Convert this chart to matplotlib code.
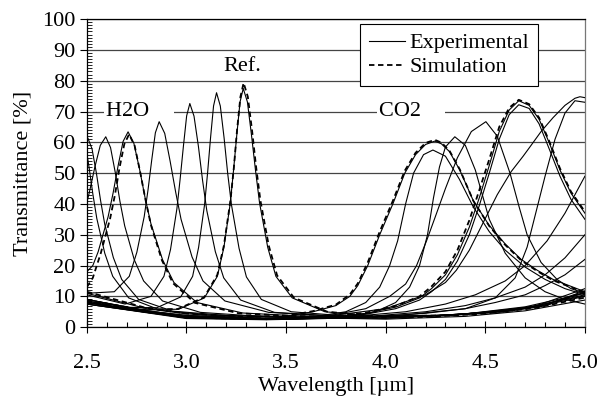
import matplotlib
matplotlib.use("Agg")
import matplotlib.pyplot as plt
from matplotlib.ticker import MultipleLocator

plt.rcParams['font.family'] = ['Liberation Serif', 'DejaVu Serif']
plt.rcParams['font.size'] = 16

# --- short-wavelength filters (experimental) ---
wl_p1 = [2.47, 2.49, 2.51, 2.53, 2.55, 2.59, 2.63, 2.71, 2.87, 3.1, 3.5, 4.0, 4.4, 4.7, 5.0]
t_p1 = [64, 60.3, 52.4, 43.3, 35.3, 24, 16.5, 9.5, 5.5, 4, 3.2, 2.6, 3.5, 5.3, 8.8]

wl_p2 = [2.49, 2.505, 2.526, 2.548, 2.569, 2.59, 2.633, 2.675, 2.76, 2.93, 3.2, 3.6, 4.0, 4.4, 4.7, 5.0]
t_p2 = [60, 61.4, 57.9, 50, 41.1, 33.4, 22.6, 15.5, 9, 5.2, 3.8, 3, 2.9, 4.2, 6.2, 10.5]

wl_p3 = [2.485, 2.5125, 2.54, 2.5675, 2.595, 2.619, 2.643, 2.666, 2.69, 2.738, 2.785, 2.88,
         3.07, 3.3, 3.7, 4.0, 4.4, 4.7, 5.0]
t_p3 = [36.6, 43.7, 51.9, 59, 61.8, 58.3, 50.1, 40.9, 32.9, 21.9, 15, 8.5,
        4.8, 3.8, 3.1, 2.9, 4.3, 6.6, 11]

wl_h2o = [2.5, 2.53, 2.557, 2.607, 2.632, 2.657, 2.682, 2.707, 2.736, 2.765, 2.793, 2.822,
          2.88, 2.937, 3.052, 3.282, 3.55, 3.9, 4.2, 4.5, 4.75, 5.0]
t_h2o = [18, 20, 24.5, 35.9, 43.6, 52.4, 60.3, 63.4, 59.7, 51.2, 41.8, 33.5,
         21.9, 14.5, 8, 4.6, 3.7, 3.2, 3.5, 4.6, 6.5, 10]

wl_p5 = [2.5, 2.638, 2.713, 2.751, 2.788, 2.807, 2.826, 2.844, 2.863, 2.891, 2.918, 2.946,
         2.973, 3.028, 3.083, 3.193, 3.413, 3.7, 4.0, 4.3, 4.6, 4.8, 5.0]
t_p5 = [11, 11.5, 16.5, 24.3, 35.9, 44.5, 54.4, 63.1, 66.7, 62.9, 53.9, 43.8,
        35, 22.8, 15, 8.5, 4.8, 3.7, 3.4, 3.8, 5.3, 7.3, 11.2]

wl_p6 = [2.5, 2.692, 2.822, 2.887, 2.92, 2.952, 2.968, 2.985, 3.001, 3.017, 3.038, 3.06,
         3.081, 3.102, 3.145, 3.187, 3.272, 3.442, 3.8, 4.1, 4.4, 4.7, 5.0]
t_p6 = [10.5, 7.5, 10, 16.5, 25.2, 38.4, 47.9, 58.9, 68.6, 72.6, 68.5, 58.7,
        47.6, 37.9, 24.5, 16, 8.8, 4.8, 3.4, 3.3, 4.3, 6.3, 10.2]

wl_p7 = [2.5, 2.65, 2.851, 2.971, 3.031, 3.061, 3.091, 3.106, 3.121, 3.136, 3.151, 3.17,
         3.189, 3.207, 3.226, 3.264, 3.301, 3.376, 3.526, 3.85, 4.2, 4.5, 4.75, 5.0]
t_p7 = [8.5, 6.5, 6.3, 9.8, 16.5, 25.9, 39.8, 50, 61.5, 71.8, 76.1, 71.8,
        61.4, 49.9, 39.7, 25.6, 16.3, 9, 5, 3.4, 3.5, 4.8, 6.8, 12.5]

wl_ref = [2.5, 2.765, 2.96, 3.09, 3.155, 3.188, 3.22, 3.236, 3.253, 3.269, 3.285, 3.306,
          3.326, 3.347, 3.367, 3.408, 3.449, 3.531, 3.695, 3.941, 4.3, 4.6, 4.8, 5.0]
t_ref = [9, 5.8, 5.8, 9.5, 16.5, 25.9, 40.3, 50.7, 62.6, 73.1, 77.5, 73.1,
         62.6, 50.7, 40.3, 25.9, 16.5, 9.5, 5, 3.6, 3.9, 5.3, 7.2, 11.8]

# --- long-wavelength filters (experimental) ---
wl_co2a = [2.5, 2.8, 3.0, 3.3, 3.5, 3.635, 3.75, 3.82, 3.86, 3.91, 3.97, 4.036, 4.096, 4.15,
           4.2, 4.247, 4.28, 4.32, 4.372, 4.44, 4.52, 4.6, 4.68, 4.76, 4.84, 4.92, 5.0]
t_co2a = [11, 6, 4.3, 3.2, 3.5, 5, 7, 10, 13.5, 20, 30, 40, 50, 56,
          59.3, 60.4, 59.5, 57, 51, 41, 33, 27, 22, 18.5, 15.5, 13.5, 11.5]

wl_co2b = [2.5, 2.8, 3.0, 3.4, 3.65, 3.8, 3.9, 3.97, 4.02, 4.06, 4.1, 4.14, 4.19, 4.237,
           4.3, 4.37, 4.44, 4.52, 4.6, 4.7, 4.8, 4.9, 5.0]
t_co2b = [9, 5.2, 3.8, 2.8, 3.5, 5, 8, 13, 20, 28, 40, 50, 56, 57.5,
          55.5, 48, 39, 31, 25, 19.5, 15.5, 12.5, 10.5]

wl_r3 = [2.5, 2.8, 3.0, 3.5, 3.8, 3.95, 4.05, 4.12, 4.17, 4.21, 4.24, 4.27, 4.3, 4.347,
         4.4, 4.45, 4.52, 4.6, 4.7, 4.8, 4.9, 5.0]
t_r3 = [8, 4.8, 3.5, 2.6, 3.2, 5, 8, 13, 20, 30, 42, 52, 58.5, 61.8,
        59, 51, 35, 24, 16, 11.5, 9, 7.5]

wl_r4 = [2.5, 2.8, 3.0, 3.4, 3.7, 3.9, 4.02, 4.1, 4.155, 4.205, 4.25, 4.3, 4.36, 4.43,
         4.503, 4.56, 4.624, 4.67, 4.71, 4.78, 4.86, 4.93, 5.0]
t_r4 = [9, 5.3, 3.8, 2.8, 3.5, 6, 10, 14, 20, 28, 36, 45, 55, 63.5,
        66.7, 62, 50, 39, 30, 21, 15.5, 12.5, 11]

wl_r5 = [2.5, 3.0, 3.4, 3.7, 3.9, 4.05, 4.17, 4.23, 4.3, 4.36, 4.42, 4.47, 4.52, 4.57,
         4.62, 4.668, 4.72, 4.77, 4.82, 4.875, 4.93, 5.0]
t_r5a = [8, 3, 2.5, 3, 4.5, 6.5, 9.5, 12.5, 17, 23.5, 32.5, 42, 52.5, 63.5,
         70.5, 73.5, 72, 67.5, 60, 51, 43.5, 37]
t_r5b = [7.5, 2.8, 2.4, 2.8, 4.2, 6, 8.8, 11.5, 15.5, 21.5, 30, 39.5, 50, 61,
         69, 72.2, 71, 66, 58, 49, 41.5, 35]

wl_r6 = [2.5, 3.0, 3.3, 3.7, 4.0, 4.2, 4.3, 4.355, 4.42, 4.49, 4.56, 4.63, 4.69, 4.724,
         4.78, 4.84, 4.9, 4.95, 4.975, 5.0]
t_r6 = [8, 3.3, 2.7, 3.5, 6, 10.5, 14.5, 18.5, 25, 34, 43, 50.5, 55.5, 58.5,
        63.5, 68, 72, 74.3, 74.8, 74.5]

wl_r7 = [2.5, 3.0, 3.4, 3.8, 4.1, 4.4, 4.55, 4.65, 4.71, 4.757, 4.8, 4.85, 4.9, 4.95, 5.0]
t_r7 = [7.5, 3, 2.5, 3, 4, 6, 9.5, 16, 26, 38, 49, 61, 69.5, 73.5, 73]

wl_r8 = [2.5, 3.0, 3.4, 3.8, 4.1, 4.3, 4.45, 4.6, 4.7, 4.81, 4.9, 4.95, 5.0]
t_r8 = [8.5, 3.4, 2.7, 3.3, 5, 7.5, 10.5, 15, 20, 28, 37, 43, 49]

wl_r9 = [2.5, 3.0, 3.5, 3.9, 4.2, 4.4, 4.55, 4.7, 4.8, 4.9, 5.0]
t_r9 = [8, 3.2, 2.7, 3.4, 5, 7, 9.5, 13, 17, 22.5, 30]

wl_r10 = [2.5, 3.0, 3.5, 3.9, 4.2, 4.4, 4.55, 4.7, 4.8, 4.9, 5.0]
t_r10 = [7.5, 3, 2.6, 3.2, 4.5, 6, 8, 10.5, 13.5, 17, 22]

# --- simulations ---
wl_h2o_sim = [2.5, 2.53, 2.57, 2.617, 2.641, 2.664, 2.688, 2.712, 2.74, 2.767, 2.795, 2.822,
              2.877, 2.932, 3.042, 3.262, 3.55, 3.9, 4.2, 4.5, 4.75, 5.0]
t_h2o_sim = [13, 16, 24, 35.3, 42.9, 51.7, 59.4, 62.6, 58.9, 50.6, 41.2, 33.1,
             21.7, 14.3, 7.9, 4.5, 3.6, 3.1, 3.3, 4.4, 6.2, 9.6]

wl_ref_sim = [2.5, 2.77, 2.957, 3.089, 3.155, 3.188, 3.221, 3.238, 3.254, 3.271, 3.287, 3.308,
              3.329, 3.35, 3.371, 3.413, 3.455, 3.539, 3.707, 3.95, 4.3, 4.6, 4.8, 5.0]
t_ref_sim = [8.8, 5.7, 5.9, 9.7, 17, 26.5, 41.2, 51.8, 64, 74.8, 79.3, 74.8,
             64, 51.8, 41.2, 26.5, 16.8, 9.6, 5, 3.5, 3.8, 5.1, 7, 11.5]

t_co2_sim = [11.5, 6.2, 4.4, 3.3, 3.6, 5.2, 7.3, 10.6, 14.2, 21, 31, 41, 50.8, 56.6,
             59.8, 60.8, 59.9, 57.3, 51.2, 41, 32.8, 26.7, 21.7, 18.2, 15.2, 13.2, 11.2]

t_r5_sim = [8.3, 3.1, 2.6, 3.1, 4.7, 6.9, 10, 13.2, 18, 25, 34.7, 44.5, 54.5, 65,
            71.2, 73.8, 72.4, 68, 60.5, 51.5, 44, 37.5]

experimental = [
    (wl_p1, t_p1), (wl_p2, t_p2), (wl_p3, t_p3), (wl_h2o, t_h2o), (wl_p5, t_p5),
    (wl_p6, t_p6), (wl_p7, t_p7), (wl_ref, t_ref),
    (wl_co2a, t_co2a), (wl_co2b, t_co2b), (wl_r3, t_r3), (wl_r4, t_r4),
    (wl_r5, t_r5a), (wl_r5, t_r5b), (wl_r6, t_r6), (wl_r7, t_r7),
    (wl_r8, t_r8), (wl_r9, t_r9), (wl_r10, t_r10),
]
simulation = [
    (wl_h2o_sim, t_h2o_sim), (wl_ref_sim, t_ref_sim),
    (wl_co2a, t_co2_sim), (wl_r5, t_r5_sim),
]

fig = plt.figure(figsize=(6.03, 3.98), dpi=100)
ax = fig.add_axes([0.144, 0.178, 0.826, 0.774])

for i, (x, y) in enumerate(experimental):
    ax.plot(x, y, color='black', lw=0.8, zorder=3,
            label='Experimental' if i == 0 else None)
for i, (x, y) in enumerate(simulation):
    ax.plot(x, y, color='black', lw=1.3, ls=(0, (3, 2)), zorder=3,
            label='Simulation' if i == 0 else None)

ax.set_xlim(2.5, 5.0)
ax.set_ylim(0, 100)
ax.xaxis.set_major_locator(MultipleLocator(0.5))
ax.xaxis.set_minor_locator(MultipleLocator(0.1))
ax.yaxis.set_major_locator(MultipleLocator(10))
ax.yaxis.set_minor_locator(MultipleLocator(1))
ax.xaxis.set_major_formatter(plt.FuncFormatter(lambda v, p: f"{v:.1f}"))

ax.tick_params(axis='x', which='major', direction='inout', length=9, width=0.8, pad=15)
ax.tick_params(axis='x', which='minor', direction='in', length=3.6, width=0.8)
ax.tick_params(axis='y', which='major', direction='out', length=5, width=0.8, pad=3)
ax.tick_params(axis='y', which='minor', direction='in', length=3.6, width=0.6)

ax.yaxis.grid(True, which='major', color='#444444', lw=0.9, zorder=0)
ax.set_axisbelow(True)
for s in ax.spines.values():
    s.set_linewidth(0.9)
    s.set_color('black')
ax.spines['right'].set_color('#777777')

ax.set_xlabel('Wavelength [µm]', labelpad=3)
ax.set_ylabel('Transmittance [%]', labelpad=7)

box = dict(facecolor='white', edgecolor='none', pad=1.5)
ax.text(2.598, 70, 'H2O\u2002\u2002', ha='left', va='center', bbox=box, zorder=2)
ax.text(3.965, 70, 'CO2\u2002\u2002', ha='left', va='center', bbox=box, zorder=2)
ax.text(3.278, 84.5, 'Ref.', ha='center', va='center', zorder=2)

leg = ax.legend(loc='center', bbox_to_anchor=(0.727, 0.883), fontsize=16,
                frameon=True, fancybox=False, edgecolor='black', framealpha=1,
                handlelength=1.6, handletextpad=0.2, borderpad=0.4, labelspacing=0.15,
                borderaxespad=0)
leg.get_frame().set_linewidth(0.8)
leg.set_zorder(5)

fig.savefig('out.png', dpi=100)
